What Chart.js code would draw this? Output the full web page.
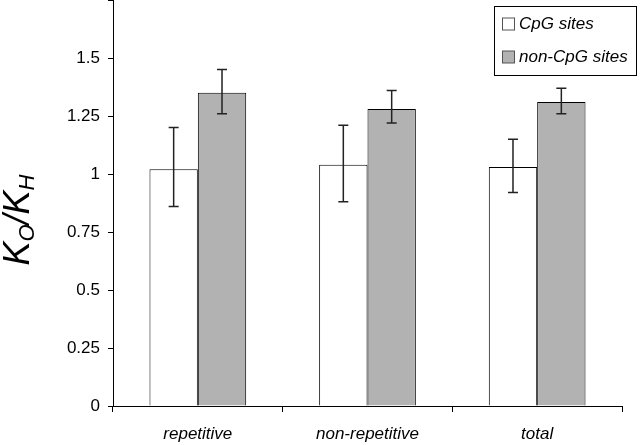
<!DOCTYPE html>
<html>
<head>
<meta charset="utf-8">
<script src="https://cdn.jsdelivr.net/npm/chart.js@4.4.1/dist/chart.umd.min.js"></script>
<style>
  body { margin: 0; background: #fff; }
  canvas { display: block; }
</style>
</head>
<body>
<canvas id="grafico" width="644" height="445"></canvas>
<script>
// Datos del grafico
const categorias = ['repetitive', 'non-repetitive', 'total'];
const seriesNombres = ['CpG sites', 'non-CpG sites'];
const cpgValores = [1.02, 1.04, 1.03];
const cpgBajo = [0.86, 0.88, 0.92];
const cpgAlto = [1.20, 1.21, 1.15];
const noCpgValores = [1.35, 1.28, 1.31];
const noCpgBajo = [1.26, 1.22, 1.26];
const noCpgAlto = [1.45, 1.36, 1.37];
const yMax = 1.75;
const yPaso = 0.25;

const fuente = '"Liberation Sans", Arial, sans-serif';
const colores = ['#ffffff', '#b2b2b2'];
const errores = [[cpgBajo, cpgAlto], [noCpgBajo, noCpgAlto]];

// Barras de error
const barrasError = {
    id: 'barrasError',
    afterDatasetsDraw(chart) {
        const ctx = chart.ctx;
        const y = chart.scales.y;
        ctx.save();
        ctx.strokeStyle = '#222';
        ctx.lineWidth = 1.5;
        chart.data.datasets.forEach((ds, i) => {
            const meta = chart.getDatasetMeta(i);
            meta.data.forEach((bar, j) => {
                const y1 = y.getPixelForValue(errores[i][0][j]);
                const y2 = y.getPixelForValue(errores[i][1][j]);
                ctx.beginPath();
                ctx.moveTo(bar.x, y1);
                ctx.lineTo(bar.x, y2);
                ctx.moveTo(bar.x - 5, y1);
                ctx.lineTo(bar.x + 5, y1);
                ctx.moveTo(bar.x - 5, y2);
                ctx.lineTo(bar.x + 5, y2);
                ctx.stroke();
            });
        });
        ctx.restore();
    }
};

// Leyenda con marco
const leyenda = {
    id: 'leyenda',
    afterDraw(chart) {
        const ctx = chart.ctx;
        ctx.save();
        ctx.strokeStyle = '#000';
        ctx.lineWidth = 1;
        ctx.fillStyle = '#fff';
        ctx.fillRect(494.5, 6.5, 142, 69);
        ctx.strokeRect(494.5, 6.5, 142, 69);
        ctx.font = 'italic 17px ' + fuente;
        ctx.textBaseline = 'middle';
        chart.data.datasets.forEach((ds, i) => {
            const yc = 24 + i * 33;
            ctx.fillStyle = ds.backgroundColor;
            ctx.fillRect(502.5, yc - 6, 12, 12);
            ctx.strokeStyle = '#555';
            ctx.strokeRect(502.5, yc - 6, 12, 12);
            ctx.fillStyle = '#000';
            ctx.fillText(ds.label, 519, yc);
        });
        ctx.restore();
    }
};

// Titulo del eje Y con subindices
const tituloY = {
    id: 'tituloY',
    afterDraw(chart) {
        const ctx = chart.ctx;
        const partes = [['K', false], ['O', true], ['/K', false], ['H', true]];
        const grande = 'italic 36px ' + fuente;
        const chico = 'italic 22px ' + fuente;
        let total = 0;
        partes.forEach(p => {
            ctx.font = p[1] ? chico : grande;
            total += ctx.measureText(p[0]).width;
        });
        ctx.save();
        ctx.translate(29, 220);
        ctx.rotate(-Math.PI / 2);
        ctx.fillStyle = '#000';
        ctx.textBaseline = 'alphabetic';
        let x = -total / 2;
        partes.forEach(p => {
            ctx.font = p[1] ? chico : grande;
            ctx.fillText(p[0], x, p[1] ? 5 : 0);
            x += ctx.measureText(p[0]).width;
        });
        ctx.restore();
    }
};

new Chart(document.getElementById('grafico').getContext('2d'), {
    type: 'bar',
    data: {
        labels: categorias,
        datasets: [
            {
                label: seriesNombres[0],
                data: cpgValores,
                backgroundColor: colores[0],
                borderColor: '#000',
                borderWidth: 1
            },
            {
                label: seriesNombres[1],
                data: noCpgValores,
                backgroundColor: colores[1],
                borderColor: '#000',
                borderWidth: 1
            }
        ]
    },
    options: {
        responsive: false,
        animation: false,
        layout: { padding: { left: 0, right: 22, top: 0, bottom: 0 } },
        datasets: { bar: { categoryPercentage: 0.57, barPercentage: 1 } },
        plugins: {
            legend: { display: false },
            tooltip: { enabled: false }
        },
        scales: {
            x: {
                grid: { drawOnChartArea: false, drawTicks: true, tickLength: 6, color: '#000', offset: true },
                border: { display: true, color: '#000', width: 1 },
                ticks: { color: '#000', padding: 12, font: { family: fuente, size: 17, style: 'italic' } },
                afterFit(scale) {
                    scale.height = 39;
                    scale.paddingLeft = 0;
                    scale.paddingRight = 0;
                }
            },
            y: {
                min: 0,
                max: yMax,
                grid: { drawOnChartArea: false, drawTicks: true, tickLength: 5, color: '#000' },
                border: { display: true, color: '#000', width: 1 },
                ticks: {
                    stepSize: yPaso,
                    color: '#000',
                    padding: 8,
                    font: { family: fuente, size: 17 },
                    callback: v => (v >= yMax ? '' : v)
                },
                afterFit(scale) {
                    scale.width = 113;
                    scale.paddingTop = 0;
                    scale.paddingBottom = 0;
                }
            }
        }
    },
    plugins: [barrasError, leyenda, tituloY]
});
</script>
</body>
</html>
